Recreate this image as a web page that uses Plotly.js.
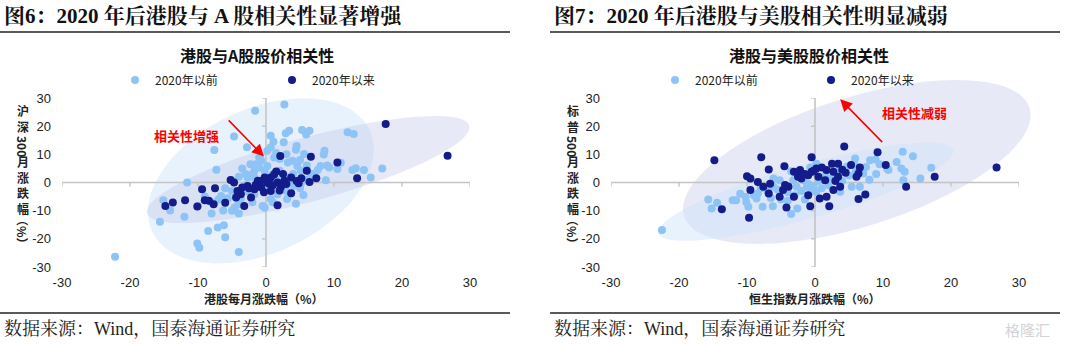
<!DOCTYPE html>
<html>
<head>
<meta charset="utf-8">
<script src="https://cdn.plot.ly/plotly-3.0.1.min.js"></script>
<style>html,body{margin:0;padding:0;background:#fff;}#chart{width:1080px;height:344px;}</style>
</head>
<body>
<div id="chart"></div>
<script>
// ---------- data ----------
const tickValues = [-30, -20, -10, 0, 10, 20, 30];
const seriesNames = ['2020年以前', '2020年以来'];

// Panel 1: 港股 vs A股 (x: 港股每月涨跌幅, y: 沪深300月涨跌幅)
const hkA_beforeX = [-22.2,-1.6,2.7,-4.7,-7.6,-2.8,0.7,1.1,2.9,3.4,2.6,5.3,6.4,5.9,12,12.9,8.6,8.5,4.4,5.6,8,9.3,10.5,12.7,13.2,14.4,17.1,15.4,8.8,5.5,4.4,3.1,-7.3,-3.5,-2.3,-11.6,-15.1,-14.1,-15.6,-12,-8,-6.3,-8.5,-7.1,-6.2,-6,-10.1,-9.8,-4,-10,-5.6,-4.6,-4.1,-3.7,-0.5,-0.2,-2.7,-1.7,-6.6,-5.1,-2.7,-1.7,1.2,2,3.2,3.9,4.6,5.1,6.6,3.7,4.1,5.1,2.4,1.7,0.7,0.2,-0.2,-1,-1.7,1,2,-0.7,-1.5,0.2,0.7,7.6,-3,-2,-1,0,1,2,-4,-3,0,1.5,3,4,-6,-5,-7,-8,-9,-3.5,2.5,6,7,6,5,3,1.5,-1,-2,-5,-4,-2,1,3,5,9,11,4.5];
const hkA_beforeY = [-26.4,25.5,27.7,16.3,11.5,12.5,16.6,14.5,17.5,18.4,14.3,18.6,18.4,17,17.8,17.2,11.3,9.9,11.6,10.1,5.9,5.3,4.8,4.4,5.1,4.4,5,1.8,0.8,-4.4,-7.5,-5.9,4.5,5,6.5,0,-6.3,-9.9,-13.9,-12.2,-11,-9.9,-17.2,-16,-15.2,-19.4,-21.7,-23.2,-24.7,-8.3,-5.6,-8.9,-7.7,-5.9,-8.3,-8.9,-3,-4.2,-4.8,0.8,1.8,1.8,8.9,8.3,7.1,7.7,5.9,4.2,3,0.6,-1.2,-0.6,-2.4,-4.2,-5.9,5.9,4.2,5.3,4.2,3,4.2,7.7,6.5,11.3,12.5,4.4,-1,-2,-1,-2,-1,0,2,3,2,1,2,3,-2,-3,-6,-7,-5,-3.5,-1,1,3,6,8,10,10.5,9,3,-10,-11,-7,-7,-3,-2,6,7,13];
const hkA_sinceX = [17.6,26.7,2.1,6.6,10.5,6,1.5,13.4,7.4,5.2,6.4,3.7,2.7,1.7,0.7,-0.2,3.7,1.7,0.7,-0.7,-1.7,-2.2,-3.2,-3.7,-4.2,-4.7,-5.2,-4.4,-2.7,-1.2,0.2,-7.5,-9.4,-11.9,-14.8,-13.7,-10.1,-9,-8.4,-7.7,1,2.2,3,4.5,0.5,-1.5,-2.5,-0.3,1.2,2.5,-3.5,4.8,-6,-0.8,2];
const hkA_sinceY = [20.8,9.5,9.4,9.1,7.1,4.2,3.9,1.5,1.5,1.5,0.2,1.8,0.6,0,1.8,1.8,-3.8,-8.1,-3,-1.8,-2.4,-5.3,-8.3,-4.2,-3,0,0.9,-5.3,-1.2,0.6,0,-2,-2.4,-6.3,-8.3,-7.1,-8.5,-6.3,-6.5,-7.7,-1,-1.5,-0.5,0.5,-0.5,-0.8,-2,-3.5,2.8,3,-1.8,-0.3,-7.2,0.5,-2.8];

// Panel 2: 港股 vs 美股 (x: 恒生指数月涨跌幅, y: 标普500月涨跌幅)
const hkUS_beforeX = [-22.5,-15.7,-15.2,-14.4,-12.1,-11.6,-10.2,-9.8,-10.1,-7.7,-6.2,-8.4,-8.6,-3.5,-2.6,-6.1,12.9,14.4,12,12.7,13.2,13,15.5,17.1,8.1,8.9,10.6,10.8,5.9,5.7,6.6,5.4,3.7,7.1,4.7,0.2,-0.7,-1.7,-2.7,-1.2,-0.2,0.2,-3.2,-5.2,-6.1,-7,-5.5,-4,-3,-2,-1,0.5,1.5,2.5,4,5,6,7.5,9.5,-8,-9,-11,-5,-4,-1.5,1,2,-2.5,3,0,-3.5,1,-0.5,-6.5,8,9];
const hkUS_beforeY = [-16.9,-6,-9.2,-7.2,-6.3,-6.3,-5.1,-8.6,-6.9,-8.6,-8.4,-3.9,-5.7,-11.2,-9.2,1.4,10.9,9.3,7.3,5,3.8,0.8,1.4,5.2,7.9,8.2,5,4.4,8.5,6.7,-1.5,-1.5,-3.3,3.2,5.6,6.7,5.3,0.8,-1.5,-1.5,-1.5,-3.3,0.8,0.8,-1.5,-3,-2.5,-3.5,-4.5,-3,-0.5,0.5,2.5,1.5,0.5,2.5,4,5.5,6.5,-2,-4.5,-4,-6,-6.5,-6,-2,-1,2.5,4,3.5,4,1,-3,-5.5,1,3];
const hkUS_sinceX = [-14.8,-7.9,-0.5,4.3,9.2,10.4,5.3,6.6,6.4,6.1,26.7,17.6,13.4,7.4,6.4,2.1,0.7,1.7,-0.7,-1,-4.2,-3.1,-5.2,-4.7,-6.8,-6.8,-4.5,-3.1,-2.2,-2,-2.5,-10,-9.5,-8.4,-6.6,-7.6,-9.5,-9.7,-13.7,-1,-0.5,0.2,1,1.7,2.5,3.4,2.7,3.4,1.5,2.7,3.7,-3.9,-4.4,0.5,-1.5,4,-0.2,3,4.5];
const hkUS_sinceY = [7.9,9,9,12.8,10.7,6.2,6.2,5.3,3.2,2,5.3,2,-1.5,-4.3,-5.9,-8.4,-5.7,-5.1,-8.4,-4.5,-8.9,-5.1,-5.1,-2.7,-3.9,4.6,5.8,3.8,4.4,1.4,2,2.2,1.4,0.2,-0.4,-1.5,-2.7,-12.5,-9.5,2.6,3.8,5,5.3,4.4,6.7,6.7,3.8,2,0.8,-2.7,-1.5,-1.5,-0.9,2,3,4.5,4.2,0.5,3.5];

// ---------- layout geometry (pixels) ----------
const W = 1080, H = 344;
const plotTop = 98, plotBottom = 267;
const leftPx = [62, 470], rightPx = [611, 1019];
const lightColor = '#8EC3F6', darkColor = '#131C8A';

const px2x = p => p / W;
const px2y = p => 1 - p / H;

function dataToPx(panel, x, y) {
  const xr = panel === 0 ? leftPx : rightPx;
  return [xr[0] + (x + 30) / 60 * (xr[1] - xr[0]), plotBottom - (y + 30) / 60 * (plotBottom - plotTop)];
}
// tilted ellipse as a paper-referenced path (decoration)
function ellipsePath(panel, cx, cy, a, b, deg) {
  const c = dataToPx(panel, cx, cy);
  const th = deg * Math.PI / 180;
  let d = '';
  for (let i = 0; i <= 72; i++) {
    const t = i / 72 * 2 * Math.PI;
    const u = a * Math.cos(t) * Math.cos(th) - b * Math.sin(t) * Math.sin(th);
    const v = a * Math.cos(t) * Math.sin(th) + b * Math.sin(t) * Math.cos(th);
    d += (i === 0 ? 'M' : 'L') + px2x(c[0] + u).toFixed(5) + ',' + px2y(c[1] - v).toFixed(5);
  }
  return d + 'Z';
}
const lightFill = 'rgba(205,226,250,0.45)';
const lavFill = 'rgba(196,199,232,0.40)';

const shapes = [
  {type:'path', xref:'paper', yref:'paper', layer:'below', path: ellipsePath(0, -0.76, 0.6, 120, 72, 25), fillcolor: lightFill, line:{width:0}},
  {type:'path', xref:'paper', yref:'paper', layer:'below', path: ellipsePath(0, 6.2, 4.6, 167, 32, 15.2), fillcolor: lavFill, line:{width:0}},
  {type:'path', xref:'paper', yref:'paper', layer:'below', path: ellipsePath(1, 6.15, 7.3, 181, 64.5, 17.4), fillcolor: lavFill, line:{width:0}},
  {type:'path', xref:'paper', yref:'paper', layer:'below', path: ellipsePath(1, -1.35, -3.3, 153, 27, 15.8), fillcolor: lightFill, line:{width:0}},
];
// axis lines through 0, with tick marks
[['x','y'],['x2','y2']].forEach(([xa, ya]) => {
  shapes.push({type:'line', xref:xa, yref:ya, layer:'below', x0:-30, x1:30, y0:0, y1:0, line:{color:'#C4C4C4', width:1.6}});
  shapes.push({type:'line', xref:xa, yref:ya, layer:'below', x0:0, x1:0, y0:-30, y1:30, line:{color:'#C4C4C4', width:1.6}});
  tickValues.forEach(t => {
    shapes.push({type:'line', xref:xa, yref:ya, layer:'below', ysizemode:'pixel', yanchor:0, x0:t, x1:t, y0:0, y1:-4, line:{color:'#C4C4C4', width:1.4}});
    shapes.push({type:'line', xref:xa, yref:ya, layer:'below', xsizemode:'pixel', xanchor:0, x0:0, x1:-4, y0:t, y1:t, line:{color:'#C4C4C4', width:1.4}});
  });
});
// header / footer rules
[[0, 510], [550, 1060]].forEach(([a, b]) => {
  shapes.push({type:'line', xref:'paper', yref:'paper', x0:px2x(a), x1:px2x(b), y0:px2y(32), y1:px2y(32), line:{color:'#222', width:1.6}});
  shapes.push({type:'line', xref:'paper', yref:'paper', x0:px2x(a), x1:px2x(b), y0:px2y(313), y1:px2y(313), line:{color:'#222', width:1.6}});
});

// ---------- traces ----------
function pts(x, y, name, color, xa, ya, lg) {
  return {type:'scatter', mode:'markers', x, y, name, xaxis:xa, yaxis:ya, legend:lg,
    marker:{color, size:8, line:{width:0}}, hoverinfo:'x+y', cliponaxis:false};
}
const traces = [
  pts(hkA_beforeX, hkA_beforeY, seriesNames[0], lightColor, 'x', 'y', 'legend'),
  pts(hkA_sinceX, hkA_sinceY, seriesNames[1], darkColor, 'x', 'y', 'legend2'),
  pts(hkUS_beforeX, hkUS_beforeY, seriesNames[0], lightColor, 'x2', 'y2', 'legend3'),
  pts(hkUS_sinceX, hkUS_sinceY, seriesNames[1], darkColor, 'x2', 'y2', 'legend4'),
];

// ---------- annotations ----------
const cjkSans = 'Noto Sans CJK SC, Liberation Sans, sans-serif';
const serif = 'Liberation Serif, Noto Serif CJK SC, Noto Sans CJK SC, serif';
function txt(text, x, y, opts) {
  return Object.assign({text, x:px2x(x), y:px2y(y), xref:'paper', yref:'paper', showarrow:false,
    xanchor:'center', yanchor:'middle'}, opts || {});
}
const annotations = [
  txt('<b>图6：2020 年后港股与 A 股相关性显著增强</b>', 2, 16, {xanchor:'left', font:{family:serif, size:21, color:'#111'}}),
  txt('<b>图7：2020 年后港股与美股相关性明显减弱</b>', 552, 16, {xanchor:'left', font:{family:serif, size:21, color:'#111'}}),
  txt('<b>港股与A股股价相关性</b>', 257, 55, {font:{family:cjkSans, size:16, color:'#111'}}),
  txt('<b>港股与美股股价相关性</b>', 809, 55, {font:{family:cjkSans, size:16, color:'#111'}}),
  txt('<b>港股每月涨跌幅（%）</b>', 264, 298, {font:{family:cjkSans, size:12, color:'#222'}}),
  txt('<b>恒生指数月涨跌幅（%）</b>', 815, 298, {font:{family:cjkSans, size:12, color:'#222'}}),
  txt('数据来源：Wind，国泰海通证券研究', 2, 329, {xanchor:'left', font:{family:serif, size:18, color:'#222'}}),
  txt('数据来源：Wind，国泰海通证券研究', 552, 329, {xanchor:'left', font:{family:serif, size:18, color:'#222'}}),
  txt('格隆汇', 1052, 329, {xanchor:'right', font:{family:cjkSans, size:15, color:'#d4d4d4'}}),
  txt('<b>相关性增强</b>', 186, 135, {font:{family:cjkSans, size:13, color:'#FF0000'}}),
  txt('<b>相关性减弱</b>', 914, 113, {font:{family:cjkSans, size:13, color:'#FF0000'}}),
];
// vertical y-axis titles
[[23, '沪<br>深', '300'], [573, '标<br>普', '500']].forEach(([cx, top, num]) => {
  const f = {family:cjkSans, size:12, color:'#222'};
  annotations.push(txt('<b>' + top + '</b>', cx, 119, {font:f}));
  annotations.push(txt('<b>' + num + '</b>', cx, 146, {font:f, textangle:90}));
  annotations.push(txt('<b>月<br>涨<br>跌<br>幅</b>', cx, 185, {font:f}));
  annotations.push(txt('<b>（%）</b>', cx, 232, {font:f, textangle:90}));
});
// arrows (data coordinates)
annotations.push({xref:'x', yref:'y', axref:'x', ayref:'y', x:-0.3, y:9.2, ax:-5.7, ay:22.6, text:'',
  showarrow:true, arrowhead:2, arrowsize:1.5, arrowwidth:1.6, arrowcolor:'#FF0000', standoff:0, startstandoff:0});
annotations.push({xref:'x2', yref:'y2', axref:'x2', ayref:'y2', x:3.7, y:29.6, ax:10.1, ay:13.8, text:'',
  showarrow:true, arrowhead:2, arrowsize:1.5, arrowwidth:1.6, arrowcolor:'#FF0000', standoff:0, startstandoff:0});

// ---------- axes ----------
function axis(domainPx, isX, anchor) {
  const dom = isX ? [px2x(domainPx[0]), px2x(domainPx[1])] : [px2y(domainPx[1]), px2y(domainPx[0])];
  return {domain: dom, range:[-30, 30], tickvals: tickValues, ticktext: tickValues.map(String), anchor,
    showgrid:false, zeroline:false, showline:false, ticks:'', fixedrange:true,
    tickfont:{family:'Liberation Sans, Arial, sans-serif', size:13, color:'#222'},
    ticklabelstandoff: isX ? 6 : 10};
}
function legendAt(x) {
  return {orientation:'h', x:px2x(x), y:px2y(80), xanchor:'left', yanchor:'middle', bgcolor:'rgba(0,0,0,0)',
    itemwidth:30, font:{family:cjkSans, size:12, color:'#222'}, itemclick:false, itemdoubleclick:false};
}
const layout = {
  width: W, height: H, margin:{l:0, r:0, t:0, b:0},
  paper_bgcolor:'#fff', plot_bgcolor:'rgba(0,0,0,0)',
  showlegend:true,
  xaxis: axis(leftPx, true, 'y'),
  yaxis: axis([plotTop, plotBottom], false, 'x'),
  xaxis2: axis(rightPx, true, 'y2'),
  yaxis2: axis([plotTop, plotBottom], false, 'x2'),
  legend: legendAt(115), legend2: legendAt(272),
  legend3: legendAt(655), legend4: legendAt(811),
  shapes, annotations,
};
Plotly.newPlot('chart', traces, layout, {displayModeBar:false, staticPlot:true});
</script>
</body>
</html>
